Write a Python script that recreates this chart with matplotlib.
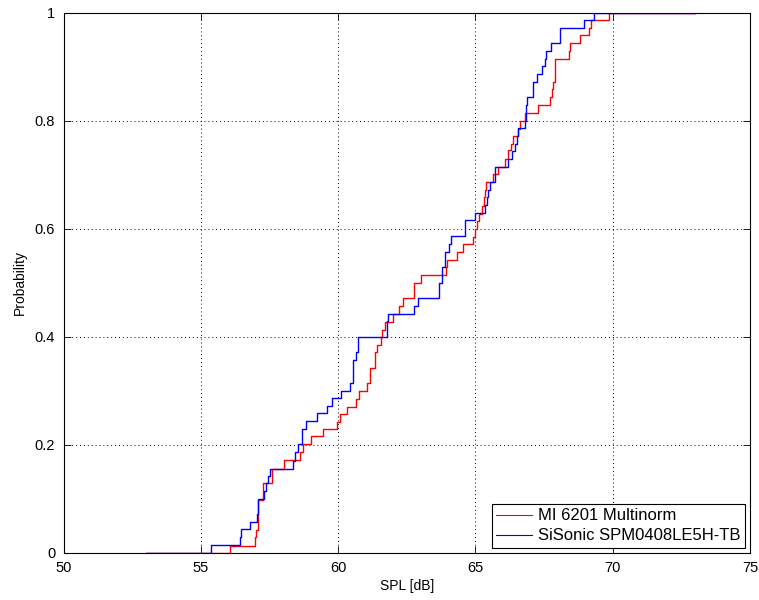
import matplotlib
matplotlib.use("Agg")
import matplotlib.pyplot as plt
from matplotlib.ticker import FuncFormatter

plt.rcParams['font.family'] = ['Liberation Sans', 'DejaVu Sans']

# step positions (SPL in dB) and cumulative probability after each step
spl_mi = [53.0, 56.06, 56.99, 57.02, 57.09, 57.28, 57.61, 58.04, 58.60, 58.73,
          59.00, 59.46, 59.97, 60.08, 60.31, 60.65, 60.77, 61.06, 61.16, 61.34,
          61.40, 61.55, 61.59, 61.71, 62.01, 62.23, 62.37, 62.78, 63.02, 63.93,
          63.96, 64.32, 64.55, 64.93, 64.99, 65.07, 65.15, 65.26, 65.33, 65.36,
          65.39, 65.65, 65.83, 66.08, 66.18, 66.30, 66.36, 66.54, 66.62, 66.81,
          67.29, 67.73, 67.78, 67.84, 67.90, 68.40, 68.45, 68.83, 69.15, 69.20,
          69.85, 73.0]
p_mi = [0.0, 0.013, 0.028, 0.042, 0.098, 0.128, 0.155, 0.171, 0.187, 0.202,
        0.216, 0.228, 0.242, 0.256, 0.270, 0.285, 0.300, 0.314, 0.342, 0.371,
        0.384, 0.399, 0.413, 0.427, 0.441, 0.456, 0.472, 0.499, 0.515, 0.528,
        0.542, 0.556, 0.571, 0.585, 0.600, 0.614, 0.627, 0.642, 0.658, 0.671,
        0.687, 0.701, 0.714, 0.729, 0.745, 0.757, 0.771, 0.785, 0.799, 0.814,
        0.829, 0.844, 0.858, 0.872, 0.915, 0.929, 0.944, 0.958, 0.972, 0.986,
        1.0, 1.0]

spl_si = [53.0, 55.36, 56.43, 56.47, 56.79, 57.03, 57.09, 57.30, 57.36, 57.45,
          57.53, 58.35, 58.43, 58.55, 58.70, 58.84, 59.23, 59.59, 59.79, 60.11,
          60.43, 60.53, 60.65, 60.74, 61.77, 61.83, 62.76, 62.92, 63.69, 63.77,
          63.90, 64.05, 64.12, 64.62, 65.00, 65.35, 65.42, 65.47, 65.55, 65.72,
          66.20, 66.32, 66.44, 66.50, 66.56, 66.82, 66.84, 66.88, 67.09, 67.25,
          67.41, 67.53, 67.58, 67.74, 68.07, 68.94, 69.32, 73.0]
p_si = [0.0, 0.014, 0.028, 0.043, 0.057, 0.071, 0.099, 0.114, 0.128, 0.142,
        0.155, 0.169, 0.186, 0.201, 0.229, 0.243, 0.258, 0.272, 0.286, 0.300,
        0.314, 0.357, 0.372, 0.400, 0.428, 0.442, 0.457, 0.471, 0.500, 0.529,
        0.557, 0.572, 0.586, 0.616, 0.628, 0.644, 0.658, 0.672, 0.686, 0.714,
        0.729, 0.743, 0.757, 0.771, 0.786, 0.800, 0.829, 0.844, 0.872, 0.886,
        0.901, 0.915, 0.929, 0.944, 0.972, 0.986, 1.0, 1.0]

labels = ["MI 6201 Multinorm", "SiSonic SPM0408LE5H-TB"]
x_ticks = [50, 55, 60, 65, 70, 75]
y_ticks = [0, 0.2, 0.4, 0.6, 0.8, 1]

fig = plt.figure(figsize=(7.59, 6.0), dpi=100)
ax = fig.add_axes([0.0837, 0.079, 0.9043, 0.9])

ax.step(spl_mi, p_mi, where="post", color="red", lw=1.0, label=labels[0])
ax.step(spl_si, p_si, where="post", color="blue", lw=1.0, label=labels[1])

ax.set_xlim(50, 75)
ax.set_ylim(0, 1)
ax.set_xticks(x_ticks)
ax.set_yticks(y_ticks)
ax.yaxis.set_major_formatter(FuncFormatter(lambda v, pos: f"{v:g}"))
ax.tick_params(direction="in", top=True, right=True, length=5, width=0.6,
               labelsize=10.5, pad=6)
ax.grid(True, linestyle=(0, (1, 3)), color="black", lw=0.7)
for s in ax.spines.values():
    s.set_linewidth(0.8)

ax.set_xlabel("SPL [dB]", fontsize=10, labelpad=3)
ax.set_ylabel("Probability", fontsize=10, labelpad=6)

leg = ax.legend(loc="lower right", fontsize=12, fancybox=False, framealpha=1,
                edgecolor="black", borderaxespad=0.3, handlelength=2.2,
                handletextpad=0.35, borderpad=0.25, labelspacing=0.3)
leg.get_frame().set_linewidth(0.8)
for line in leg.get_lines():
    line.set_linewidth(0.8)

fig.savefig("out.png", dpi=100)
